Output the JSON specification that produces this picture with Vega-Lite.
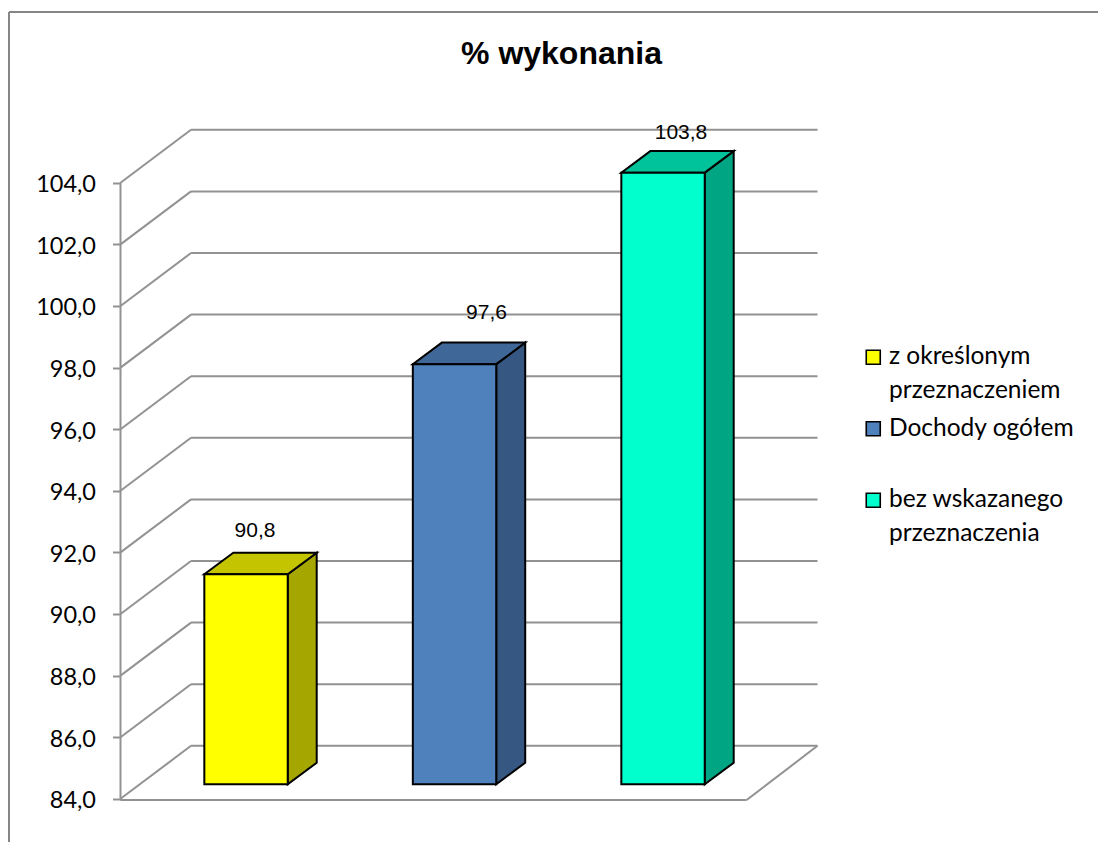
{
"$schema":"https://vega.github.io/schema/vega-lite/v6.json",
"width":1089,"height":830,
"padding":{"left":9,"top":12,"right":0,"bottom":0},
"autosize":{"type":"none"},
"background":"white",
"view":{"stroke":null},
"config":{"style":{"guide-label":{"lineHeight":34}}},
"title":{"text":"% wykonania","font":"Liberation Sans","fontSize":32,"fontWeight":"bold","anchor":"middle","frame":"group","offset":0,"dy":85,"dx":8,"color":"black","baseline":"alphabetic"},
"datasets":{
"siatka":[{"v":84},{"v":86},{"v":88},{"v":90},{"v":92},{"v":94},{"v":96},{"v":98},{"v":100},{"v":102},{"v":104}],
"dochody":[
{"kategoria":"z określonym przeznaczeniem","wartosc":90.8,"kolejnosc":1},
{"kategoria":"Dochody ogółem","wartosc":97.6,"kolejnosc":2},
{"kategoria":"bez wskazanego przeznaczenia","wartosc":103.8,"kolejnosc":3}]
},
"resolve":{"scale":{"fill":"independent"},"axis":{"x":"independent","y":"independent"}},
"layer":[
{"data":{"name":"siatka"},
 "transform":[{"calculate":"datum.v+1.72","as":"tyl"}],
 "mark":{"type":"rule","color":"#929292","strokeWidth":2},
 "encoding":{
  "x":{"datum":0,"type":"quantitative","scale":{"domain":[-0.5348,4.6882],"nice":false,"zero":false},"axis":null},
  "x2":{"datum":0.3381},
  "y":{"field":"v","type":"quantitative","scale":{"domain":[82.597,109.545],"nice":false,"zero":false},
   "axis":{"title":null,"orient":"left","offset":-111.5,"values":[84,86,88,90,92,94,96,98,100,102,104],"domain":false,"grid":false,"ticks":true,"tickSize":8,"tickWidth":2,"tickColor":"#929292","labelFont":"Lato","labelFontSize":23.5,"labelColor":"#000000","labelPadding":17,"labelOffset":2,"labelExpr":"replace(format(datum.value,'.1f'),'.',',')"}},
  "y2":{"field":"tyl"}
 }},
{"data":{"name":"siatka"},
 "transform":[{"calculate":"datum.v+1.72","as":"tyl"}],
 "mark":{"type":"rule","color":"#929292","strokeWidth":2},
 "encoding":{
  "x":{"datum":0.3381,"type":"quantitative","axis":null},
  "x2":{"datum":3.343},
  "y":{"field":"tyl","type":"quantitative","axis":null}
 }},
{"mark":{"type":"rule","color":"#929292","strokeWidth":2},"data":{"values":[{"a":1}]},
 "encoding":{"x":{"datum":0,"type":"quantitative","axis":null},"y":{"datum":84,"type":"quantitative","axis":null},"y2":{"datum":104}}},
{"mark":{"type":"rule","color":"#929292","strokeWidth":2},"data":{"values":[{"a":1}]},
 "encoding":{"x":{"datum":0,"type":"quantitative","axis":null},"x2":{"datum":3.003},"y":{"datum":83.96,"type":"quantitative","axis":null}}},
{"mark":{"type":"rule","color":"#929292","strokeWidth":2},"data":{"values":[{"a":1}]},
 "encoding":{"x":{"datum":3.003,"type":"quantitative","axis":null},"x2":{"datum":3.343},"y":{"datum":83.96,"type":"quantitative","axis":null},"y2":{"datum":85.72}}},
{"mark":{"type":"rule","color":"#868686","strokeWidth":2},"data":{"values":[{"a":1}]},
 "encoding":{"x":{"datum":-0.5348,"type":"quantitative","axis":null}}},
{"mark":{"type":"rule","color":"#868686","strokeWidth":2},"data":{"values":[{"a":1}]},
 "encoding":{"y":{"datum":109.545,"type":"quantitative","axis":null}}},
{"data":{"name":"dochody"},
 "transform":[
  {"calculate":"datum.kolejnosc-1+0.402","as":"xl"},
  {"calculate":"datum.xl+0.4","as":"xr"},
  {"calculate":"84.47","as":"dol"},
  {"calculate":"84.47+(datum.wartosc-84)*1.003","as":"gora"},
  {"calculate":"[0,1]","as":"t"},{"flatten":["t"]},
  {"calculate":"datum.xr+datum.t*0.139","as":"xb"},
  {"calculate":"datum.gora+datum.t*0.7","as":"yb"},
  {"calculate":"datum.dol+datum.t*0.7","as":"yb2"}],
 "mark":{"type":"area","orient":"vertical","stroke":"black","strokeWidth":2,"strokeJoin":"miter"},
 "encoding":{
  "x":{"field":"xb","type":"quantitative","axis":null},
  "y":{"field":"yb","type":"quantitative","axis":null,"stack":null},
  "y2":{"field":"yb2"},
  "fill":{"field":"kategoria","type":"nominal","legend":null,"scale":{"domain":["z określonym przeznaczeniem","Dochody ogółem","bez wskazanego przeznaczenia"],"range":["#a6a600","#355781","#00a584"]}}
 }},
{"data":{"name":"dochody"},
 "transform":[
  {"calculate":"datum.kolejnosc-1+0.402","as":"xl"},
  {"calculate":"datum.xl+0.4","as":"xr"},
  {"calculate":"84.47+(datum.wartosc-84)*1.003","as":"gora"},
  {"calculate":"[0,1]","as":"t"},{"flatten":["t"]},
  {"calculate":"datum.xl+datum.t*0.139","as":"xa"},
  {"calculate":"datum.xr+datum.t*0.139","as":"xb"},
  {"calculate":"datum.gora+datum.t*0.7","as":"yb"}],
 "mark":{"type":"area","orient":"horizontal","stroke":"black","strokeWidth":2,"strokeJoin":"miter"},
 "encoding":{
  "y":{"field":"yb","type":"quantitative","axis":null},
  "x":{"field":"xa","type":"quantitative","axis":null,"stack":null},
  "x2":{"field":"xb"},
  "fill":{"field":"kategoria","type":"nominal","legend":null,"scale":{"domain":["z określonym przeznaczeniem","Dochody ogółem","bez wskazanego przeznaczenia"],"range":["#c4c400","#3f6797","#00c39c"]}}
 }},
{"data":{"name":"dochody"},
 "transform":[
  {"calculate":"datum.kolejnosc-1+0.402","as":"xl"},
  {"calculate":"datum.xl+0.4","as":"xr"},
  {"calculate":"84.47","as":"dol"},
  {"calculate":"84.47+(datum.wartosc-84)*1.003","as":"gora"}],
 "mark":{"type":"rect","stroke":"black","strokeWidth":2},
 "encoding":{
  "x":{"field":"xl","type":"quantitative","axis":null},
  "x2":{"field":"xr"},
  "y":{"field":"gora","type":"quantitative","axis":null},
  "y2":{"field":"dol"},
  "fill":{"field":"kategoria","type":"nominal","scale":{"domain":["z określonym przeznaczeniem","Dochody ogółem","bez wskazanego przeznaczenia"],"range":["#ffff00","#4f81bd","#00ffcc"]},
   "legend":{"title":null,"orient":"none","legendX":852,"legendY":333,"symbolType":"square","symbolSize":196,"symbolStrokeColor":"black","symbolStrokeWidth":1.6,"symbolOpacity":1,"labelFont":"Lato","labelFontSize":24.5,"labelColor":"#000000","labelLimit":300,"labelOffset":3.5,"rowPadding":12.5,
    "labelExpr":"datum.label=='z określonym przeznaczeniem'?['z określonym','przeznaczeniem']:datum.label=='bez wskazanego przeznaczenia'?['bez wskazanego','przeznaczenia']:[datum.label,' ']"}}
 }},
{"data":{"name":"dochody"},
 "transform":[{"filter":"datum.kolejnosc==1"},{"calculate":"datum.kolejnosc-1+0.602","as":"xc"},{"calculate":"84.47+(datum.wartosc-84)*1.003","as":"gora"},{"calculate":"replace(format(datum.wartosc,'.1f'),'.',',')","as":"etykieta"}],
 "mark":{"type":"text","font":"Liberation Sans","fontSize":21,"color":"black","dx":9,"dy":-43,"baseline":"middle"},
 "encoding":{"x":{"field":"xc","type":"quantitative","axis":null},"y":{"field":"gora","type":"quantitative","axis":null},"text":{"field":"etykieta"}}},
{"data":{"name":"dochody"},
 "transform":[{"filter":"datum.kolejnosc==2"},{"calculate":"datum.kolejnosc-1+0.602","as":"xc"},{"calculate":"84.47+(datum.wartosc-84)*1.003","as":"gora"},{"calculate":"replace(format(datum.wartosc,'.1f'),'.',',')","as":"etykieta"}],
 "mark":{"type":"text","font":"Liberation Sans","fontSize":21,"color":"black","dx":32,"dy":-51,"baseline":"middle"},
 "encoding":{"x":{"field":"xc","type":"quantitative","axis":null},"y":{"field":"gora","type":"quantitative","axis":null},"text":{"field":"etykieta"}}},
{"data":{"name":"dochody"},
 "transform":[{"filter":"datum.kolejnosc==3"},{"calculate":"datum.kolejnosc-1+0.602","as":"xc"},{"calculate":"84.47+(datum.wartosc-84)*1.003","as":"gora"},{"calculate":"replace(format(datum.wartosc,'.1f'),'.',',')","as":"etykieta"}],
 "mark":{"type":"text","font":"Liberation Sans","fontSize":21,"color":"black","dx":18,"dy":-40,"baseline":"middle"},
 "encoding":{"x":{"field":"xc","type":"quantitative","axis":null},"y":{"field":"gora","type":"quantitative","axis":null},"text":{"field":"etykieta"}}}
]
}
